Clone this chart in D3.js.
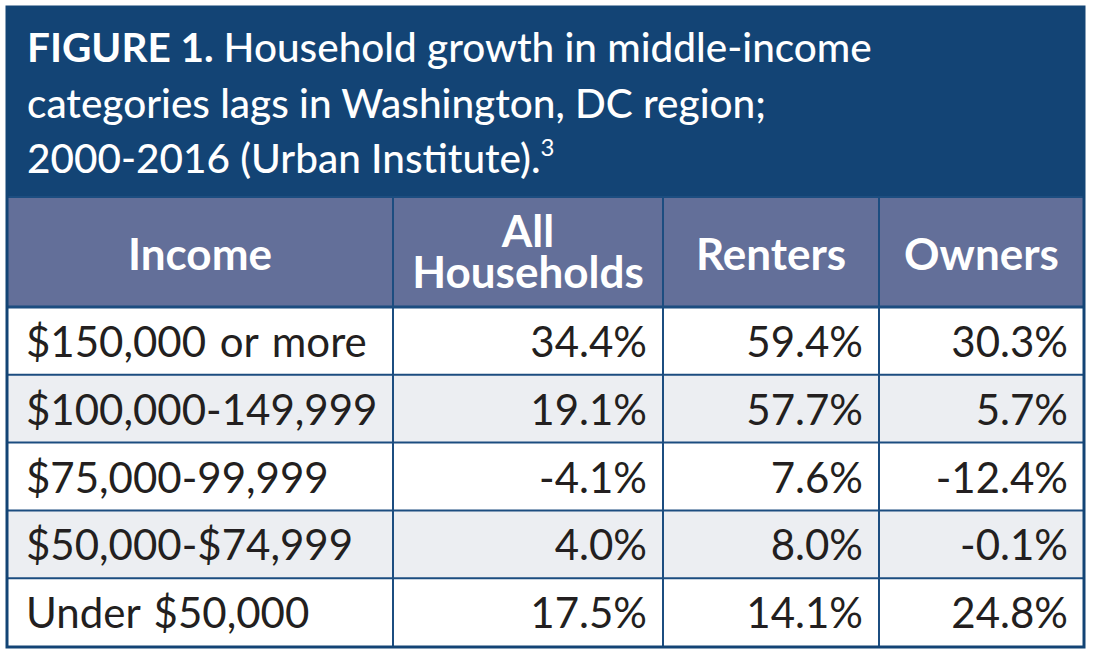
<!DOCTYPE html>
<html lang="en">
<head>
    <meta charset="UTF-8">
    <title>Household growth in middle-income categories</title>
    <style>
        body { margin: 0; background: #fff; }
        svg text { font-family: 'Lato', 'Open Sans', sans-serif; }
        .title { fill: #fff; font-size: 40.5px; font-weight: 500; }
        .head { fill: #fff; font-size: 44px; font-weight: 700; text-anchor: middle; }
        .cell { fill: #231f20; font-size: 42px; font-weight: 400; word-spacing: 3px; }
    </style>
</head>
<body>
    <svg id="chart" width="1094" height="656"></svg>

    <script src="https://d3js.org/d3.v7.min.js"></script>
    <script>
        // Table data
        const columns = ["Income", "All Households", "Renters", "Owners"];
        const incomes = ["$150,000 or more", "$100,000-149,999", "$75,000-99,999", "$50,000-$74,999", "Under $50,000"];
        const allHouseholds = [34.4, 19.1, -4.1, 4.0, 17.5];
        const renters = [59.4, 57.7, 7.6, 8.0, 14.1];
        const owners = [30.3, 5.7, -12.4, -0.1, 24.8];

        // layout
        const tLeft = 7, tRight = 1084, tTop = 6;
        const titleBottom = 197, headBottom = 307, tableBottom = 646;
        const colEdges = [tLeft, 393, 663, 879, tRight];
        const lineColor = "#1c4d80";

        const svg = d3.select("#chart");

        // row scale
        const y = d3.scaleBand().domain(incomes).range([headBottom, tableBottom]);
        // column positions
        const x = d3.scaleOrdinal().domain(columns).range(colEdges.slice(0, 4));
        const colW = c => colEdges[columns.indexOf(c) + 1] - x(c);

        // title block
        svg.append("rect")
            .attr("x", tLeft - 1).attr("y", tTop)
            .attr("width", tRight - tLeft + 2).attr("height", titleBottom - tTop)
            .attr("fill", "#134475");

        const titleLines = [
            [["FIGURE 1. ", 700], ["Household growth in middle-income", 500]],
            [["categories lags in Washington, DC region;", 500]],
            [["2000-2016 (Urban Institute).", 500]]
        ];
        const title = svg.append("text").attr("class", "title");
        titleLines.forEach((parts, i) => {
            parts.forEach((p, j) => {
                const t = title.append("tspan").text(p[0]).style("font-weight", p[1]);
                if (j === 0) t.attr("x", 27).attr("y", 62 + i * 55.5);
            });
        });
        title.append("tspan").text("3")
            .style("font-size", "24px").style("font-weight", 400)
            .attr("dy", -17);

        // header row
        svg.append("rect")
            .attr("x", tLeft).attr("y", titleBottom)
            .attr("width", tRight - tLeft).attr("height", headBottom - titleBottom)
            .attr("fill", "#636f99");

        columns.forEach(c => {
            const cx = x(c) + colW(c) / 2;
            const words = c === "All Households" ? ["All", "Households"] : [c];
            const t = svg.append("text").attr("class", "head");
            words.forEach((w, i) => {
                const base = words.length === 1 ? 270 : 247 + i * 41;
                t.append("tspan").attr("x", cx).attr("y", base).text(w);
            });
        });

        // body rows
        const rows = incomes.map((inc, i) => ({
            income: inc,
            vals: [allHouseholds[i], renters[i], owners[i]],
            i
        }));

        const g = svg.selectAll(".row").data(rows).enter().append("g").attr("class", "row");

        g.append("rect")
            .attr("x", tLeft).attr("y", d => y(d.income))
            .attr("width", tRight - tLeft).attr("height", y.bandwidth())
            .attr("fill", d => d.i % 2 ? "#eceef2" : "#ffffff");

        g.append("text")
            .attr("class", "cell")
            .attr("x", 26)
            .attr("y", d => y(d.income) + y.bandwidth() / 2 + 16)
            .text(d => d.income);

        g.selectAll(".val").data(d => d.vals.map((v, k) => ({ v, col: columns[k + 1], row: d.income })))
            .enter().append("text")
            .attr("class", "cell val")
            .attr("text-anchor", "end")
            .attr("x", d => x(d.col) + colW(d.col) - 16)
            .attr("y", d => y(d.row) + y.bandwidth() / 2 + 16)
            .text(d => d.v.toFixed(1) + "%");

        // grid lines
        incomes.forEach((inc, i) => {
            if (i === 0) return;
            svg.append("line")
                .attr("x1", tLeft).attr("x2", tRight)
                .attr("y1", y(inc)).attr("y2", y(inc))
                .attr("stroke", lineColor).attr("stroke-width", 2);
        });
        svg.append("line")
            .attr("x1", tLeft).attr("x2", tRight)
            .attr("y1", headBottom).attr("y2", headBottom)
            .attr("stroke", lineColor).attr("stroke-width", 3);
        colEdges.slice(1, 4).forEach(cx => {
            svg.append("line")
                .attr("x1", cx).attr("x2", cx)
                .attr("y1", titleBottom).attr("y2", tableBottom)
                .attr("stroke", lineColor).attr("stroke-width", 2);
        });
        svg.append("line")
            .attr("x1", tLeft).attr("x2", tRight)
            .attr("y1", titleBottom).attr("y2", titleBottom)
            .attr("stroke", lineColor).attr("stroke-width", 2);

        // outer frame
        svg.append("rect")
            .attr("x", tLeft).attr("y", tTop + 1)
            .attr("width", tRight - tLeft).attr("height", tableBottom - tTop)
            .attr("fill", "none")
            .attr("stroke", "#134475").attr("stroke-width", 3);
    </script>
</body>
</html>
